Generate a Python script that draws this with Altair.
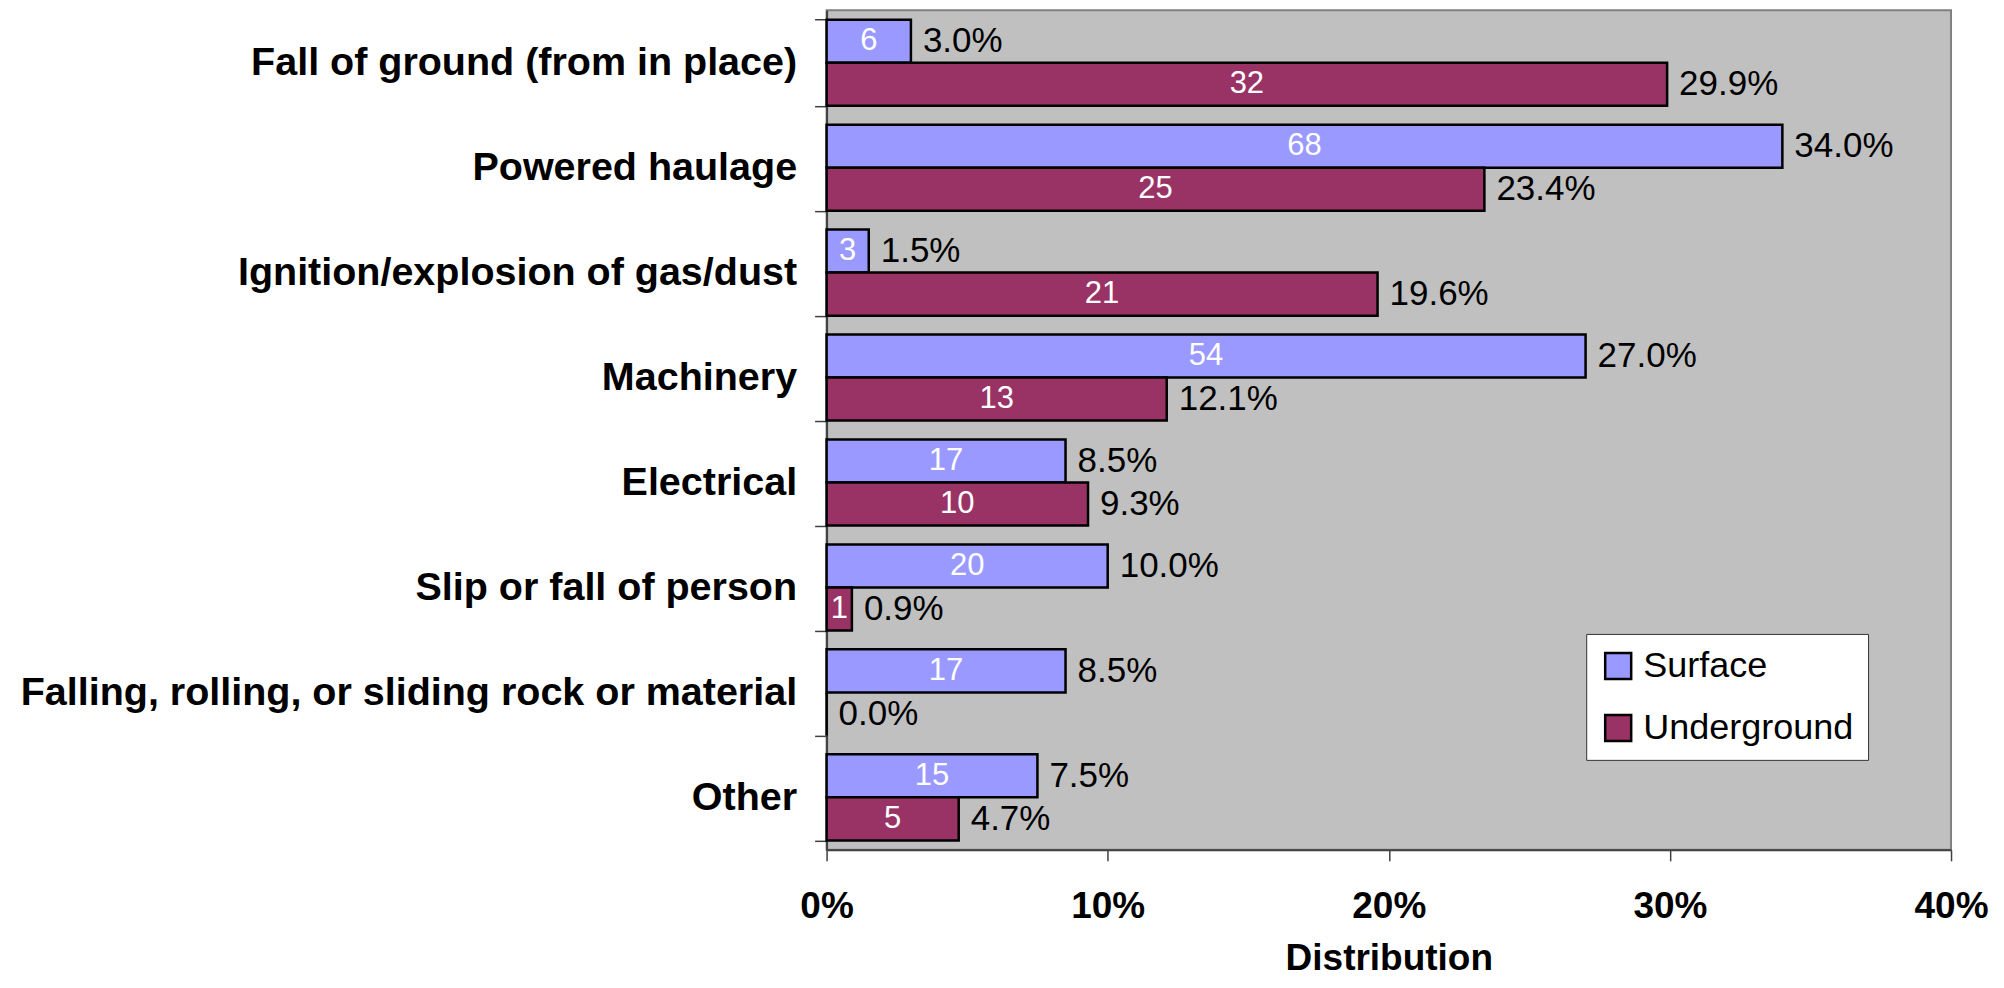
import altair as alt
import pandas as pd

categories = [
    "Fall of ground (from in place)",
    "Powered haulage",
    "Ignition/explosion of gas/dust",
    "Machinery",
    "Electrical",
    "Slip or fall of person",
    "Falling, rolling, or sliding rock or material",
    "Other",
]
surface_counts = [6, 68, 3, 54, 17, 20, 17, 15]
surface_pct = [3.0, 34.0, 1.5, 27.0, 8.5, 10.0, 8.5, 7.5]
underground_counts = [32, 25, 21, 13, 10, 1, 0, 5]
underground_pct = [29.9, 23.4, 19.6, 12.1, 9.3, 0.9, 0.0, 4.7]
series = ["Surface", "Underground"]
colors = ["#9999FF", "#993366"]
x_ticks = [0, 0.1, 0.2, 0.3, 0.4]

rows = []
for i, c in enumerate(categories):
    rows.append(dict(category=c, series="Surface", count=surface_counts[i], pct=surface_pct[i] / 100))
    rows.append(dict(category=c, series="Underground", count=underground_counts[i], pct=underground_pct[i] / 100))
df = pd.DataFrame(rows)

FONT = "Liberation Sans"

y_enc = alt.Y(
    "category:N",
    sort=categories,
    scale=alt.Scale(paddingInner=0.18, paddingOuter=0.09),
    axis=alt.Axis(
        title=None,
        labelFont=FONT,
        labelFontSize=39.5,
        labelFontWeight="bold",
        labelColor="black",
        labelLimit=1200,
        labelPadding=18,
        tickSize=12,
        tickColor="#404040",
        tickWidth=1.5,
        domainColor="#404040",
        domainWidth=2,
        tickBand="extent",
    ),
)
yoff_enc = alt.YOffset("series:N", sort=series, scale=alt.Scale(domain=series, paddingInner=0, paddingOuter=0))


def x_enc(field):
    return alt.X(
        field,
        type="quantitative",
        scale=alt.Scale(domain=[0, 0.4], nice=False),
        title="Distribution",
        axis=alt.Axis(
            values=x_ticks,
            format=".0%",
            labelFont=FONT,
            labelFontSize=37,
            labelFontWeight="bold",
            labelColor="black",
            labelPadding=28,
            labelFlush=False,
            tickSize=11,
            tickColor="#404040",
            tickWidth=1.5,
            domainColor="#404040",
            domainWidth=2,
            grid=False,
            titleFont=FONT,
            titleFontSize=37,
            titleFontWeight="bold",
            titleColor="black",
            titlePadding=16,
        ),
    )


bars = alt.Chart(df).mark_bar(stroke="black", strokeWidth=2.5).encode(
    x=x_enc("pct"),
    y=y_enc,
    yOffset=yoff_enc,
    color=alt.Color(
        "series:N",
        sort=series,
        scale=alt.Scale(domain=series, range=colors),
        legend=alt.Legend(
            title=None,
            orient="none",
            legendX=760,
            legendY=624,
            fillColor="white",
            strokeColor="#333333",
            padding=14,
            symbolType="square",
            symbolSize=676,
            symbolStrokeColor="black",
            symbolStrokeWidth=2.5,
            labelFont=FONT,
            labelFontSize=36,
            labelColor="black",
            labelOffset=7,
            rowPadding=26,
            labelLimit=400,
        ),
    ),
)

pct_text = alt.Chart(df).mark_text(
    align="left", baseline="middle", dx=12, fontSize=35, font=FONT, color="black"
).encode(
    x=x_enc("pct"),
    y=y_enc,
    yOffset=yoff_enc,
    text=alt.Text("pct:Q", format=".1%"),
)

count_text = (
    alt.Chart(df)
    .transform_filter("datum.count > 0")
    .transform_calculate(mid="datum.pct / 2")
    .mark_text(align="center", baseline="middle", fontSize=31, font=FONT, color="white")
    .encode(
        x=x_enc("mid"),
        y=y_enc,
        yOffset=yoff_enc,
        text=alt.Text("count:Q"),
    )
)

chart = (
    alt.layer(bars, pct_text, count_text)
    .properties(
        width=1125,
        height=840,
        padding={"left": 819, "top": 2, "right": 45, "bottom": 130},
        autosize=alt.AutoSizeParams(type="none"),
        background="white",
    )
    .configure_view(fill="#C0C0C0", stroke="#808080", strokeWidth=2)
)

chart.save("out.html", embed_options={"renderer": "svg", "actions": False})
